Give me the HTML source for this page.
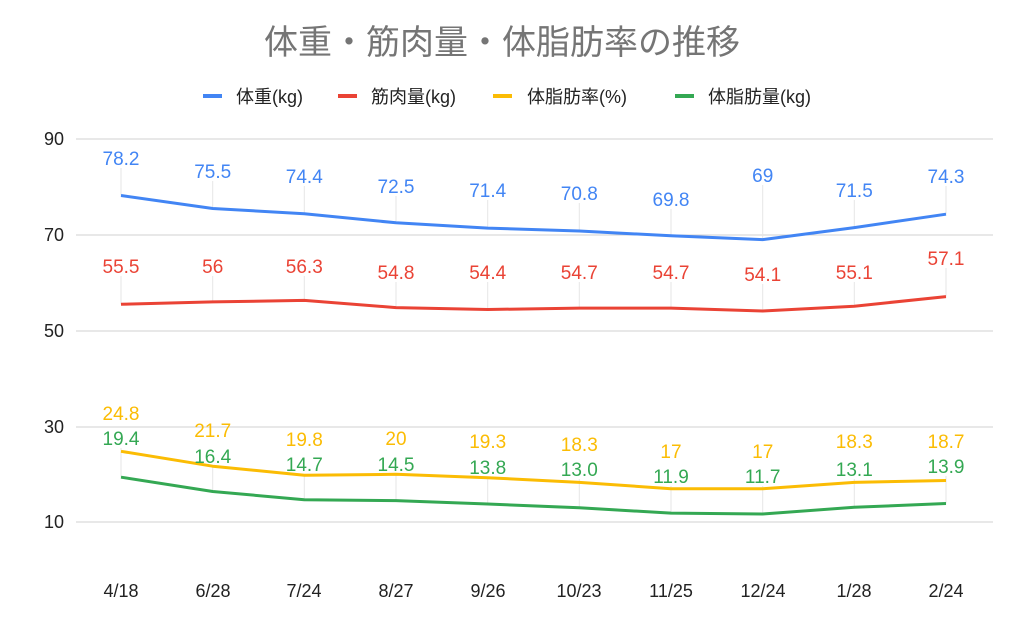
<!DOCTYPE html>
<html><head><meta charset="utf-8"><style>
html,body{margin:0;padding:0;background:#fff;}
svg{display:block;font-family:"Liberation Sans","Noto Sans CJK JP",sans-serif;}
</style></head><body>
<svg width="1024" height="633" viewBox="0 0 1024 633" xmlns="http://www.w3.org/2000/svg">
<text x="502" y="54" text-anchor="middle" font-size="34" fill="#757575">体重・筋肉量・体脂肪率の推移</text>
<g font-size="18" fill="#222">
<line x1="203" y1="96" x2="222" y2="96" stroke="#4285f4" stroke-width="4"/><text x="236" y="103">体重(kg)</text>
<line x1="338" y1="96" x2="357" y2="96" stroke="#ea4335" stroke-width="4"/><text x="371" y="103">筋肉量(kg)</text>
<line x1="493" y1="96" x2="512" y2="96" stroke="#fbbc04" stroke-width="4"/><text x="527" y="103">体脂肪率(%)</text>
<line x1="675" y1="96" x2="694" y2="96" stroke="#34a853" stroke-width="4"/><text x="708" y="103">体脂肪量(kg)</text>
</g>
<g stroke="#d0d0d0" stroke-width="1">
<line x1="76" y1="139" x2="993" y2="139"/><line x1="76" y1="235" x2="993" y2="235"/>
<line x1="76" y1="331" x2="993" y2="331"/><line x1="76" y1="427" x2="993" y2="427"/>
<line x1="76" y1="522" x2="993" y2="522"/>
</g>
<g font-size="18" fill="#222" text-anchor="end">
<text x="64" y="145">90</text><text x="64" y="241">70</text><text x="64" y="337">50</text><text x="64" y="433">30</text><text x="64" y="528">10</text>
</g>
<g font-size="18" fill="#222" text-anchor="middle">
<text x="121" y="597">4/18</text><text x="213" y="597">6/28</text><text x="304" y="597">7/24</text><text x="396" y="597">8/27</text><text x="488" y="597">9/26</text><text x="579" y="597">10/23</text><text x="671" y="597">11/25</text><text x="763" y="597">12/24</text><text x="854" y="597">1/28</text><text x="946" y="597">2/24</text>
</g>
<g stroke="#e6e6e6" stroke-width="1">
<line x1="121" y1="168" x2="121" y2="195.5"/><line x1="212.7" y1="181" x2="212.7" y2="208.5"/><line x1="304.3" y1="186" x2="304.3" y2="213.7"/><line x1="396" y1="196" x2="396" y2="222.8"/><line x1="487.7" y1="200" x2="487.7" y2="228.1"/><line x1="579.3" y1="203" x2="579.3" y2="231"/><line x1="671" y1="209" x2="671" y2="235.8"/><line x1="762.7" y1="185" x2="762.7" y2="239.6"/><line x1="854.3" y1="200" x2="854.3" y2="227.6"/><line x1="946" y1="186" x2="946" y2="214.2"/>
<line x1="121" y1="276" x2="121" y2="304.3"/><line x1="212.7" y1="276" x2="212.7" y2="301.9"/><line x1="304.3" y1="276" x2="304.3" y2="300.4"/><line x1="396" y1="282" x2="396" y2="307.6"/><line x1="487.7" y1="282" x2="487.7" y2="309.5"/><line x1="579.3" y1="282" x2="579.3" y2="308.1"/><line x1="671" y1="282" x2="671" y2="308.1"/><line x1="762.7" y1="284" x2="762.7" y2="311"/><line x1="854.3" y1="282" x2="854.3" y2="306.2"/><line x1="946" y1="268" x2="946" y2="296.6"/>
<line x1="121" y1="448" x2="121" y2="477.2"/><line x1="212.7" y1="466" x2="212.7" y2="491.5"/><line x1="304.3" y1="474" x2="304.3" y2="499.7"/><line x1="396" y1="474" x2="396" y2="500.6"/><line x1="487.7" y1="477" x2="487.7" y2="504"/><line x1="579.3" y1="479" x2="579.3" y2="507.8"/><line x1="671" y1="486" x2="671" y2="513.1"/><line x1="762.7" y1="486" x2="762.7" y2="514"/><line x1="854.3" y1="479" x2="854.3" y2="507.3"/><line x1="946" y1="476" x2="946" y2="503.5"/>
</g>
<g fill="none" stroke-width="3" stroke-linejoin="round">
<polyline stroke="#4285f4" points="121,195.5 212.7,208.5 304.3,213.7 396,222.8 487.7,228.1 579.3,231 671,235.8 762.7,239.6 854.3,227.6 946,214.2"/>
<polyline stroke="#ea4335" points="121,304.3 212.7,301.9 304.3,300.4 396,307.6 487.7,309.5 579.3,308.1 671,308.1 762.7,311 854.3,306.2 946,296.6"/>
<polyline stroke="#fbbc04" points="121,451.3 212.7,466.2 304.3,475.3 396,474.3 487.7,477.7 579.3,482.4 671,488.7 762.7,488.7 854.3,482.4 946,480.5"/>
<polyline stroke="#34a853" points="121,477.2 212.7,491.5 304.3,499.7 396,500.6 487.7,504 579.3,507.8 671,513.1 762.7,514 854.3,507.3 946,503.5"/>
</g>
<g font-size="19" text-anchor="middle">
<g fill="#4285f4"><text x="121" y="165">78.2</text><text x="212.7" y="178">75.5</text><text x="304.3" y="183">74.4</text><text x="396" y="193">72.5</text><text x="487.7" y="197">71.4</text><text x="579.3" y="200">70.8</text><text x="671" y="206">69.8</text><text x="762.7" y="182">69</text><text x="854.3" y="197">71.5</text><text x="946" y="183">74.3</text></g>
<g fill="#ea4335"><text x="121" y="273">55.5</text><text x="212.7" y="273">56</text><text x="304.3" y="273">56.3</text><text x="396" y="279">54.8</text><text x="487.7" y="279">54.4</text><text x="579.3" y="279">54.7</text><text x="671" y="279">54.7</text><text x="762.7" y="281">54.1</text><text x="854.3" y="279">55.1</text><text x="946" y="265">57.1</text></g>
<g fill="#fbbc04"><text x="121" y="420">24.8</text><text x="212.7" y="437">21.7</text><text x="304.3" y="446">19.8</text><text x="396" y="445">20</text><text x="487.7" y="448">19.3</text><text x="579.3" y="451">18.3</text><text x="671" y="458">17</text><text x="762.7" y="458">17</text><text x="854.3" y="448">18.3</text><text x="946" y="448">18.7</text></g>
<g fill="#34a853"><text x="121" y="445">19.4</text><text x="212.7" y="463">16.4</text><text x="304.3" y="471">14.7</text><text x="396" y="471">14.5</text><text x="487.7" y="474">13.8</text><text x="579.3" y="476">13.0</text><text x="671" y="483">11.9</text><text x="762.7" y="483">11.7</text><text x="854.3" y="476">13.1</text><text x="946" y="473">13.9</text></g>
</g>
</svg>
</body></html>
